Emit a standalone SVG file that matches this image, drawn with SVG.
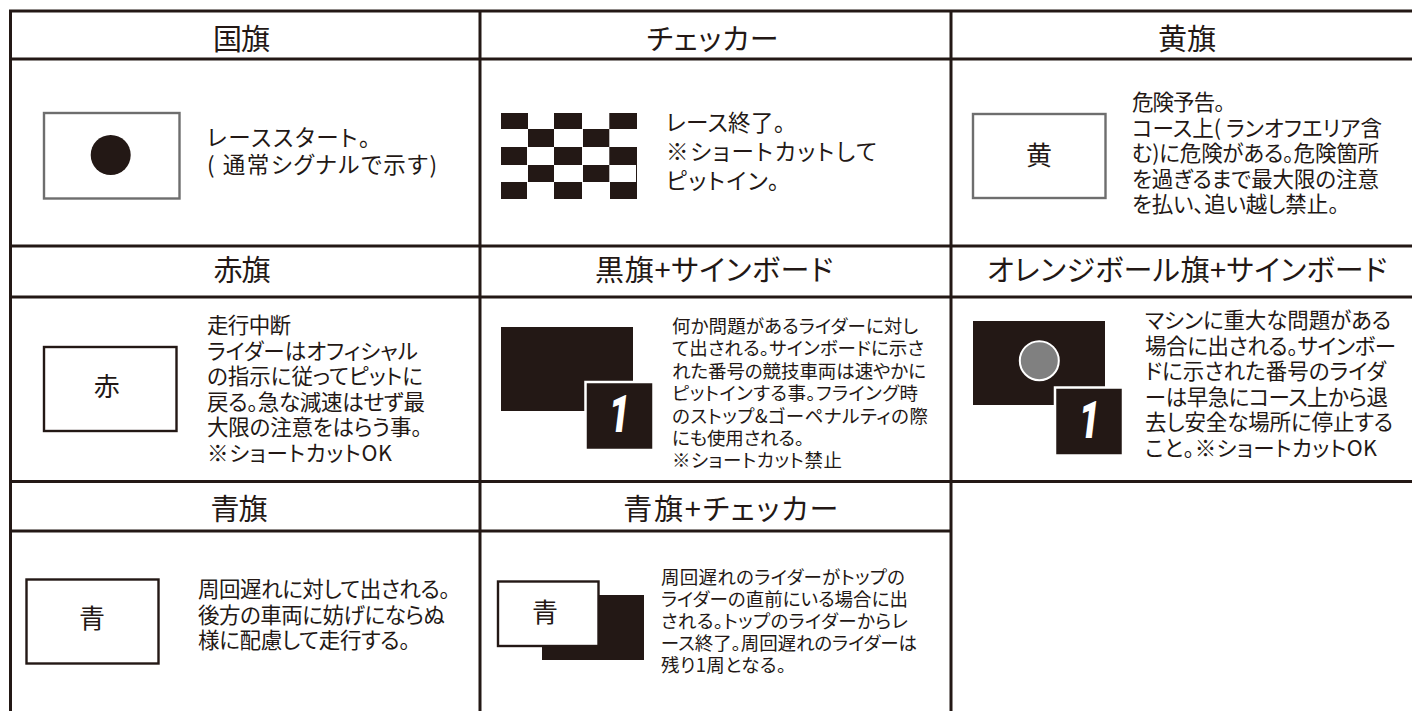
<svg xmlns="http://www.w3.org/2000/svg" width="1412" height="711" viewBox="0 0 1412 711">
<style>
text{font-family:"Noto Sans CJK JP","Noto Sans",sans-serif;fill:#231815;font-feature-settings:"palt";}
.h{font-size:29px;text-anchor:middle;}
.f{font-size:26px;text-anchor:middle;}
.b22{font-size:22.5px;}
.b20{font-size:21.5px;}
.b18{font-size:18.5px;}
.grid line{stroke:#231815;stroke-width:3;}
.fl{fill:#fff;stroke:#231815;stroke-width:2.4;}
.fg{fill:#fff;stroke:#6e6e6e;stroke-width:2.4;}
.k{fill:#231815;}
text.one{font-family:"Roboto",sans-serif;font-weight:900;font-style:italic;font-size:52px;fill:#fff;text-anchor:middle;font-feature-settings:normal;}
.board{fill:#231815;stroke:#fff;stroke-width:2.5;}
</style>
<rect width="1412" height="711" fill="#fff"/>
<g id="connectors" class="grid">
<line x1="9" y1="11" x2="1412" y2="11"/>
<line x1="9" y1="59" x2="1412" y2="59"/>
<line x1="9" y1="246" x2="1412" y2="246"/>
<line x1="9" y1="297" x2="1412" y2="297"/>
<line x1="9" y1="481.5" x2="1412" y2="481.5"/>
<line x1="9" y1="531" x2="951" y2="531"/>
<line x1="10.5" y1="10" x2="10.5" y2="711"/>
<line x1="480" y1="10" x2="480" y2="711"/>
<line x1="951" y1="10" x2="951" y2="711"/>
</g>
<g id="kokki">
<text class="h" x="241.5" y="49.5" textLength="57">国旗</text>
<rect class="fg" x="44" y="113" width="135.5" height="85.5"/>
<circle class="k" cx="110.7" cy="155" r="20"/>
<text class="b22"><tspan x="207" y="146" textLength="163">レーススタート。</tspan><tspan x="207" y="173" textLength="230">( 通常シグナルで示す)</tspan></text>
</g>
<g id="checker">
<text class="h" x="712.5" y="49.5" textLength="132">チェッカー</text>
<g class="k">
<rect x="501" y="113" width="27" height="16"/><rect x="554" y="113" width="28" height="16"/><rect x="609.3" y="113" width="27.7" height="16"/>
<rect x="528" y="129" width="26" height="18"/><rect x="583" y="129" width="26.3" height="18"/>
<rect x="501" y="147" width="26" height="18"/><rect x="554" y="147" width="28" height="18"/><rect x="609.3" y="147" width="27.7" height="18"/>
<rect x="528" y="165" width="26" height="17"/><rect x="583" y="165" width="26.3" height="17"/><rect x="636" y="165" width="1" height="17"/>
<rect x="501" y="182" width="26" height="17"/><rect x="554" y="182" width="28" height="17"/><rect x="610" y="182" width="27" height="17"/>
</g>
<text class="b22"><tspan x="666" y="131" textLength="119">レース終了。</tspan><tspan x="666" y="160" textLength="211">※ショートカットして</tspan><tspan x="666" y="189" textLength="113">ピットイン。</tspan></text>
</g>
<g id="kiiro">
<text class="h" x="1187" y="49.5" textLength="58">黄旗</text>
<rect class="fg" x="973" y="114" width="132.5" height="84"/>
<text class="f" x="1039" y="165">黄</text>
<text class="b20"><tspan x="1132" y="110" textLength="93">危険予告。</tspan><tspan x="1132" y="135.5" textLength="250">コース上( ランオフエリア含</tspan><tspan x="1132" y="161" textLength="247">む)に危険がある。危険箇所</tspan><tspan x="1132" y="187" textLength="247">を過ぎるまで最大限の注意</tspan><tspan x="1132" y="212" textLength="207">を払い、追い越し禁止。</tspan></text>
</g>
<g id="aka">
<text class="h" x="242" y="281" textLength="57">赤旗</text>
<rect class="fl" x="44" y="347" width="132.5" height="84"/>
<text class="f" x="106.7" y="396">赤</text>
<text class="b20"><tspan x="207" y="333" textLength="84">走行中断</tspan><tspan x="207" y="358.6" textLength="211">ライダーはオフィシャル</tspan><tspan x="207" y="384.2" textLength="216">の指示に従ってピットに</tspan><tspan x="207" y="409.8" textLength="218">戻る。急な減速はせず最</tspan><tspan x="207" y="435.4" textLength="215">大限の注意をはらう事。</tspan><tspan x="207" y="461" textLength="185">※ショートカットOK</tspan></text>
</g>
<g id="kuro">
<text class="h" x="714" y="281" textLength="238">黒旗+サインボード</text>
<rect class="k" x="501" y="327" width="132" height="84"/>
<rect class="board" x="585.5" y="382" width="68" height="68"/>
<text class="one" transform="translate(619.3 432.3) scale(.72 1)">1</text>
<text class="b18"><tspan x="672" y="333" textLength="246">何か問題があるライダーに対し</tspan><tspan x="672" y="355.4" textLength="252">て出される。サインボードに示さ</tspan><tspan x="672" y="377.8" textLength="254">れた番号の競技車両は速やかに</tspan><tspan x="672" y="400.2" textLength="246">ピットインする事。フライング時</tspan><tspan x="672" y="422.6" textLength="256">のストップ&amp;ゴーペナルティの際</tspan><tspan x="672" y="445" textLength="132">にも使用される。</tspan><tspan x="672" y="467.4" textLength="170">※ショートカット禁止</tspan></text>
</g>
<g id="orange">
<text class="h" x="1187" y="281" textLength="400">オレンジボール旗+サインボード</text>
<rect class="k" x="973" y="321" width="132" height="84"/>
<circle cx="1039.3" cy="360.7" r="19.5" fill="#808080" stroke="#fff" stroke-width="2"/>
<rect class="board" x="1055" y="387.5" width="68" height="68"/>
<text class="one" transform="translate(1089.3 438.3) scale(.72 1)">1</text>
<text class="b20"><tspan x="1145" y="328" textLength="246">マシンに重大な問題がある</tspan><tspan x="1145" y="353.6" textLength="251">場合に出される。サインボー</tspan><tspan x="1145" y="379.2" textLength="241">ドに示された番号のライダ</tspan><tspan x="1145" y="404.8" textLength="243">ーは早急にコース上から退</tspan><tspan x="1145" y="430.4" textLength="248">去し安全な場所に停止する</tspan><tspan x="1145" y="456" textLength="232">こと。※ショートカットOK</tspan></text>
</g>
<g id="ao">
<text class="h" x="239" y="520" textLength="57">青旗</text>
<rect class="fl" x="26.5" y="579.5" width="132" height="84"/>
<text class="f" x="92" y="628">青</text>
<text class="b20"><tspan x="198" y="597" textLength="252">周回遅れに対して出される。</tspan><tspan x="198" y="622.6" textLength="247">後方の車両に妨げにならぬ</tspan><tspan x="198" y="648" textLength="212">様に配慮して走行する。</tspan></text>
</g>
<g id="ao-checker">
<text class="h" x="730.8" y="520" textLength="215">青旗+チェッカー</text>
<rect class="k" x="542" y="595" width="102" height="65"/>
<rect class="fl" x="498" y="581.5" width="100.5" height="64.5"/>
<text class="f" x="545" y="622">青</text>
<text class="b18"><tspan x="661" y="583.5" textLength="244">周回遅れのライダーがトップの</tspan><tspan x="661" y="605.5" textLength="247">ライダーの直前にいる場合に出</tspan><tspan x="661" y="627.5" textLength="247">される。トップのライダーからレ</tspan><tspan x="661" y="649.5" textLength="256">ース終了。周回遅れのライダーは</tspan><tspan x="661" y="671.5" textLength="125">残り1周となる。</tspan></text>
</g>
</svg>
